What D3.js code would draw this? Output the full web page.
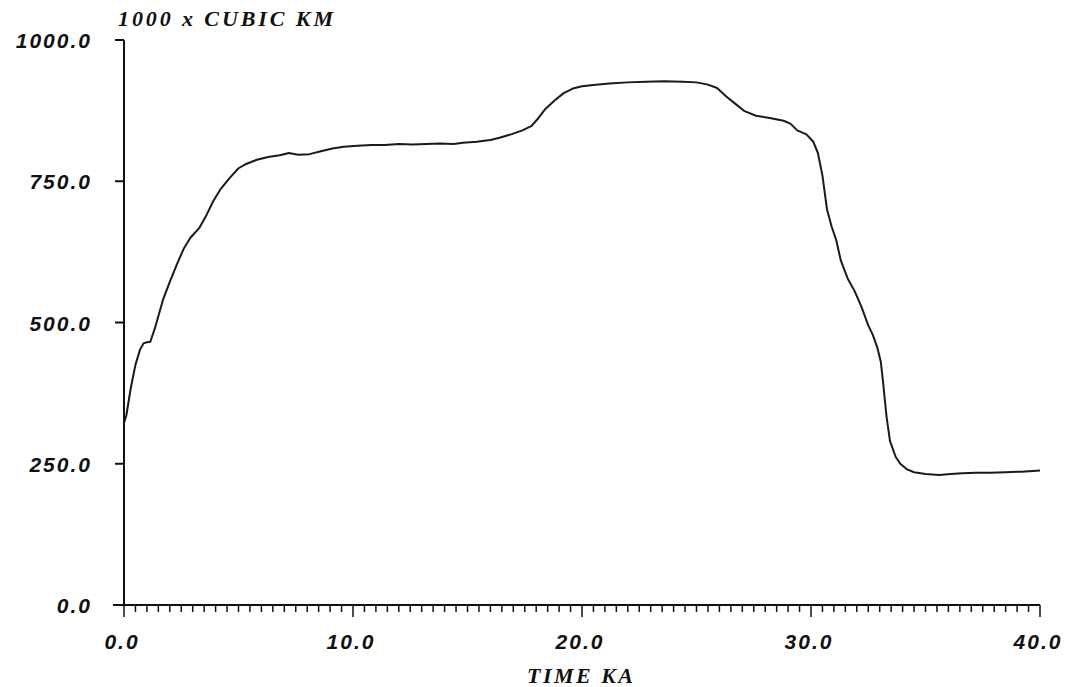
<!DOCTYPE html>
<html>
<head>
<meta charset="utf-8">
<script src="https://cdn.jsdelivr.net/npm/d3@7"></script>
<style>
	body { margin: 0; background: #fff; }
	svg { display: block; }
</style>
</head>
<body>
<div id="chart"></div>
<script>
// lectures sur la figure : temps (ka) et volume (1000 x km3)
const timeKa = [0.0, 0.1, 0.3, 0.5, 0.7, 0.85, 1.0, 1.15, 1.35, 1.7, 2.0, 2.3, 2.6, 2.9, 3.3, 3.6, 3.9, 4.2, 4.6, 5.0,
	5.3, 5.8, 6.3, 6.8, 7.2, 7.6, 8.1, 8.6, 9.1, 9.6, 10.2, 10.8, 11.4, 12.0, 12.6, 13.2, 13.8, 14.4, 14.8, 15.4,
	16.0, 16.4, 16.9, 17.4, 17.8, 18.1, 18.4, 18.8, 19.2, 19.6, 20.0, 20.6, 21.2, 22.0, 22.8, 23.6, 24.4, 25.0, 25.5, 25.9,
	26.3, 26.7, 27.1, 27.6, 28.2, 28.8, 29.1, 29.4, 29.8, 30.1, 30.3, 30.5, 30.7, 30.9, 31.1, 31.3, 31.6, 31.9, 32.2, 32.5,
	32.7, 32.9, 33.05, 33.15, 33.3, 33.45, 33.7, 33.9, 34.2, 34.5, 35.0, 35.6, 36.1, 36.6, 37.2, 37.8, 38.5, 39.2, 40.0];
const volume = [322, 335, 385, 425, 452, 463, 465, 466, 490, 540, 572, 602, 630, 650, 668, 690, 715, 735, 755, 773,
	780, 788, 793, 796, 800, 797, 798, 803, 808, 811, 813, 814, 814, 816, 815, 816, 817, 816, 818, 820,
	823, 827, 833, 840, 848, 862, 878, 893, 906, 914, 918, 921, 923, 925, 926, 927, 926, 925, 921, 915,
	900, 887, 874, 866, 862, 857, 852, 840, 833, 820, 800, 760, 700, 670, 646, 610, 578, 556, 528, 495,
	478, 455, 430, 393, 333, 290, 262, 250, 240, 235, 232, 230, 232, 233, 234, 234, 235, 236, 238];
const xTicks = [0, 10, 20, 30, 40];
const yTicks = [0, 250, 500, 750, 1000];
const yTitle = "1000 x CUBIC KM";
const xTitle = "TIME KA";

const width = 1073, height = 687;
const svg = d3.select("#chart").append("svg")
	.attr("width", width)
	.attr("height", height)
	.style("background", "#fff");

const x = d3.scaleLinear().domain([0, 40]).range([124, 1040]);
const y = d3.scaleLinear().domain([0, 1000]).range([605, 40]);

const numFont = "'Liberation Sans', Arial, sans-serif";
const titleFont = "'Liberation Serif', 'Times New Roman', serif";
const ink = "#111";

// axe des x : graduations vers le bas, mineures tous les 0.5
let gx = svg.append("g").attr("transform", `translate(0,${y(0)})`);
gx.append("line")
	.attr("x1", 113).attr("x2", x(40))
	.attr("stroke", ink).attr("stroke-width", 2);
gx.selectAll("line.minor")
	.data(d3.range(0, 40.01, 0.5))
	.join("line")
	.attr("class", "minor")
	.attr("x1", d => x(d)).attr("x2", d => x(d))
	.attr("y1", 0)
	.attr("y2", d => xTicks.includes(d) ? 12 : 7)
	.attr("stroke", ink).attr("stroke-width", 1.5);
gx.selectAll("text")
	.data(xTicks)
	.join("text")
	.attr("x", d => x(d) - 2)
	.attr("y", 44)
	.attr("text-anchor", "middle")
	.style("font-family", numFont)
	.style("font-size", "21px")
	.style("font-weight", "bold")
	.style("font-style", "italic")
	.style("letter-spacing", "2px")
	.attr("fill", ink)
	.text(d => d3.format(".1f")(d));

// axe des y : graduations vers la gauche
let gy = svg.append("g").attr("transform", `translate(${x(0)},0)`);
gy.append("line")
	.attr("y1", y(1000)).attr("y2", y(0))
	.attr("stroke", ink).attr("stroke-width", 2);
gy.selectAll("line.tick")
	.data(yTicks.filter(d => d > 0))
	.join("line")
	.attr("class", "tick")
	.attr("x1", -9).attr("x2", 0)
	.attr("y1", d => y(d)).attr("y2", d => y(d))
	.attr("stroke", ink).attr("stroke-width", 2);
gy.selectAll("text")
	.data(yTicks)
	.join("text")
	.attr("x", -32)
	.attr("y", d => y(d) + 8)
	.attr("text-anchor", "end")
	.style("font-family", numFont)
	.style("font-size", "21px")
	.style("font-weight", "bold")
	.style("font-style", "italic")
	.style("letter-spacing", "2px")
	.attr("fill", ink)
	.text(d => d3.format(".1f")(d));

// titres
svg.append("text")
	.attr("x", 118).attr("y", 26)
	.attr("textLength", 215).attr("lengthAdjust", "spacing")
	.style("font-family", titleFont)
	.style("font-size", "22px")
	.style("font-weight", "bold")
	.style("font-style", "italic")
	.attr("fill", ink)
	.text(yTitle);
svg.append("text")
	.attr("x", 527).attr("y", 683)
	.attr("textLength", 106).attr("lengthAdjust", "spacing")
	.style("font-family", titleFont)
	.style("font-size", "22px")
	.style("font-weight", "bold")
	.style("font-style", "italic")
	.attr("fill", ink)
	.text(xTitle);

// courbe
const pts = timeKa.map((t, i) => [t, volume[i]]);
svg.append("path")
	.datum(pts)
	.attr("fill", "none")
	.attr("stroke", "#1a1a1a")
	.attr("stroke-width", 2)
	.attr("stroke-linejoin", "round")
	.attr("d", d3.line().x(d => x(d[0])).y(d => y(d[1])));
</script>
</body>
</html>
